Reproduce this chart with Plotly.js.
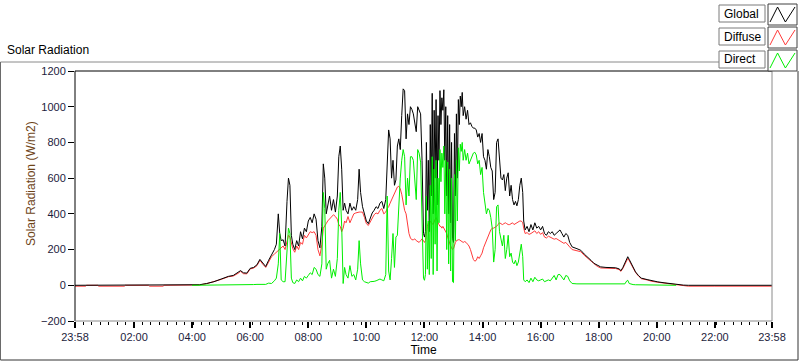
<!DOCTYPE html>
<html>
<head>
<meta charset="utf-8">
<script src="https://cdn.plot.ly/plotly-3.0.1.min.js"></script>
<style>
html,body{margin:0;padding:0;background:#fff;}
#chart{width:800px;height:361px;}
</style>
</head>
<body>
<div id="chart"></div>
<script>
// Time of day in minutes since midnight (-2 = 23:58 of previous day)
const timeMin = [
  -2,20,22,45,47,100,102,150,152,180,182,240,
  255,270,285,300,315,325,335,340,346,353,360,367,374,380,386,392,398,404,410,414,
  418,421,424,428,432,436,439,442,445,448,452,456,460,464,468,472,476,480,
  484,488,492,496,500,504,508,511,514,517,520,524,528,532,536,540,
  543,546,549,552,555,558,562,566,570,574,578,582,585,588,592,596,600,604,608,612,616,620,624,628,632,636,640,
  643,646,649,652,655,658,661,664,667,670,673,676,679,682,685,688,691,694,697,700,703,706,709,712,715,718,720,722,
  724,726,728,730,732,734,736,738,740,742,744,746,748,750,752,754,756,758,760,762,764,766,768,770,772,774,776,778,780,782,784,786,788,790,792,794,796,798,800,
  803,806,809,812,815,818,821,824,827,830,
  833,836,839,842,845,848,851,854,857,860,863,866,869,872,875,878,881,884,887,890,893,896,899,902,905,908,911,914,917,920,923,925,928,
  932,936,940,944,948,952,956,960,964,968,972,976,980,984,988,992,996,1000,1004,1008,1012,1016,
  1020,1025,1035,1043,1050,1057,1064,1070,1077,1084,1095,1105,1115,1122,1126,1130,1134,1138,1140,1143,1147,1151,1156,1162,1168,1180,1190,1202,1215,1225,1240,1255,
  1265,1320,1380,1438
];
// Global radiation (W/m2)
const globalRad = [
  0,0,0,0,0,0,0,0,0,0,0,0,
  3,10,20,35,50,55,70,82,70,68,95,100,115,145,125,105,140,170,200,230,
  400,290,250,255,220,470,600,560,280,230,200,250,220,300,260,320,300,360,
  380,350,400,370,250,210,330,680,600,400,450,500,420,480,410,500,
  720,780,650,420,460,420,400,460,420,440,420,480,650,520,440,400,360,345,380,405,420,440,430,460,470,430,480,
  700,870,820,600,700,560,590,780,820,760,950,1100,1090,820,960,900,1000,985,960,900,860,1000,980,960,700,290,270,300,
  800,420,700,300,900,500,1075,400,980,600,1040,450,950,700,1090,900,1050,980,1095,700,1000,500,950,400,900,350,800,260,240,850,500,960,600,1040,900,1060,1000,1080,950,
  1000,930,980,900,910,890,880,880,870,830,
  850,800,850,720,700,650,760,720,660,640,480,520,800,820,700,600,590,620,530,600,630,500,560,480,450,470,445,480,560,600,520,360,310,
  330,300,340,310,350,320,330,310,330,290,280,300,290,300,280,290,300,310,290,270,290,280,
  240,215,205,196,175,160,140,123,112,103,100,100,98,92,82,100,125,150,160,145,125,100,75,55,40,32,25,19,14,10,4,1,
  0,0,0,0
];
// Diffuse radiation (W/m2)
const diffuseRad = [
  -5,-5,0,0,-5,-5,0,0,-5,-5,0,0,
  2,9,19,33,48,52,67,78,65,64,92,96,110,140,118,100,130,160,175,185,
  190,200,210,220,200,240,280,270,230,205,185,220,200,240,230,280,265,285,
  300,295,300,280,200,165,230,320,330,345,360,370,380,395,385,370,
  340,330,300,320,360,350,385,350,375,400,405,410,410,410,410,380,345,335,355,380,395,405,400,420,430,400,410,
  430,440,460,480,500,520,540,550,555,540,510,460,420,400,330,290,265,255,255,260,250,245,240,250,260,250,240,250,
  300,330,350,340,360,350,345,340,360,370,380,360,350,340,330,330,320,330,320,310,300,290,270,250,240,220,210,200,205,230,240,250,255,255,255,250,250,245,240,
  245,240,230,220,200,170,145,135,140,160,
  150,165,180,210,230,250,270,300,310,320,320,325,330,340,350,345,340,345,350,345,340,340,345,350,340,345,350,355,360,360,350,320,290,
  295,285,290,300,305,290,300,285,295,270,265,275,270,265,258,262,255,245,240,235,240,230,
  215,200,195,188,168,152,133,117,106,97,95,96,94,88,78,95,118,140,150,138,118,96,72,52,37,30,22,17,12,8,2,-1,
  -5,-5,-5,-5
];
// Direct radiation (W/m2)
const directRad = [
  null,null,null,null,null,null,null,null,null,null,null,0,
  0,0,0,0,0,1,2,2,3,3,4,4,5,6,8,5,12,10,25,40,
  120,290,30,20,20,230,320,290,40,15,10,30,20,40,25,50,40,55,
  70,60,100,90,60,50,120,520,430,90,120,140,40,90,50,150,
  420,520,330,10,100,60,40,110,50,60,30,90,250,120,30,20,15,12,20,20,22,25,28,35,30,25,60,
  500,80,30,150,290,100,270,280,470,600,700,760,720,450,600,500,720,720,700,600,480,760,740,690,430,40,28,60,
  500,90,360,60,560,150,720,60,650,230,700,80,600,350,760,580,740,660,780,400,700,200,690,120,650,80,600,20,15,620,250,700,360,770,640,790,750,800,700,
  760,700,740,680,700,720,740,745,730,680,
  700,620,660,520,470,400,430,420,380,320,130,200,440,450,300,250,220,280,150,200,280,160,180,130,120,140,110,130,190,230,160,30,20,
  30,15,40,20,45,30,25,30,35,20,25,30,25,40,55,30,60,60,45,30,55,50,
  25,10,8,8,7,7,6,6,6,5,5,4,4,4,4,5,8,25,28,10,5,4,3,3,2,2,1,1,1,1,0,null,
  null,null,null,null
];
const seriesNames = ["Global", "Diffuse", "Direct"];
const xTickVals = [-2,120,240,360,480,600,720,840,960,1080,1200,1320,1438];
const xTickText = ["23:58","02:00","04:00","06:00","08:00","10:00","12:00","14:00","16:00","18:00","20:00","22:00","23:58"];
const yTickVals = [-200,0,200,400,600,800,1000,1200];

if (globalRad.length !== timeMin.length || diffuseRad.length !== timeMin.length || directRad.length !== timeMin.length) {
  throw new Error("length mismatch " + timeMin.length + " " + globalRad.length + " " + diffuseRad.length + " " + directRad.length);
}

const W = 800, H = 361, ML = 75, MR = 28, MT = 71, MB = 40;
const PW = W - ML - MR, PH = H - MT - MB;
const fx = px => (px - ML) / PW;
const fy = py => (H - MB - py) / PH;

const colors = {Global: "#000000", Diffuse: "#ff3a3a", Direct: "#00ee00"};
const FONT = "Liberation Sans, Arial, sans-serif";

const traces = [
  {x: timeMin, y: diffuseRad, name: "Diffuse", type: "scatter", mode: "lines", line: {color: colors.Diffuse, width: 1}},
  {x: timeMin, y: globalRad, name: "Global", type: "scatter", mode: "lines", line: {color: colors.Global, width: 1}},
  {x: timeMin, y: directRad, name: "Direct", type: "scatter", mode: "lines", line: {color: colors.Direct, width: 1}, connectgaps: false}
];

function line(x0, y0, x1, y1, color) {
  return {type: "line", xref: "paper", yref: "paper", x0: fx(x0), y0: fy(y0), x1: fx(x1), y1: fy(y1),
          line: {color: color, width: 1}, layer: "above"};
}
function rect(x0, y0, x1, y1, color) {
  return {type: "rect", xref: "paper", yref: "paper", x0: fx(x0), y0: fy(y0), x1: fx(x1), y1: fy(y1),
          line: {color: color, width: 1}, fillcolor: "#ffffff", layer: "above"};
}
function zig(x0, y0, x1, y1, color) {
  const w = x1 - x0;
  const pts = [[x0 + 2, y1 - 3], [x0 + w * 0.33, y0 + 3], [x0 + w * 0.6, y1 - 3], [x1 - 2, y0 + 3]];
  const d = pts.map((p, i) => (i ? "L" : "M") + fx(p[0]) + "," + fy(p[1])).join(" ");
  return {type: "path", xref: "paper", yref: "paper", path: d, line: {color: color, width: 1}, layer: "above"};
}

const shapes = [
  // outer frame
  line(0.5, 62, 719, 62, "#8a8a8a"),
  line(0.5, 62, 0.5, 360, "#6a6a6a"),
  line(0.5, 360, 798, 360, "#333333"),
  line(798, 71, 798, 360, "#333333"),
  // plot frame
  line(75, 71, 772, 71, "#000000"),
  line(75, 71, 75, 321, "#000000"),
  line(772, 71, 772, 321, "#8a8a8a"),
  line(75, 321, 772, 321, "#8a8a8a")
];
const annotations = [
  {xref: "paper", yref: "paper", x: fx(5), y: fy(50), xanchor: "left", yanchor: "middle", showarrow: false,
   text: "Solar Radiation", font: {family: FONT, size: 12, color: "#000000"}},
  {xref: "paper", yref: "paper", x: fx(31), y: fy(184), xanchor: "center", yanchor: "middle", showarrow: false,
   textangle: -90, text: "Solar Radiation (W/m2)", font: {family: FONT, size: 12, color: "#6e4418"}}
];
const legendRows = [[5, 22], [28, 45], [51, 68]];
seriesNames.forEach((nm, i) => {
  const [ya, yb] = legendRows[i];
  shapes.push(rect(719, ya, 765, yb, "#7a7a7a"));
  shapes.push(rect(768, ya - 1, 797, yb + 3, "#404040"));
  shapes.push(zig(768, ya - 1, 797, yb + 3, colors[nm]));
  annotations.push({xref: "paper", yref: "paper", x: fx(722), y: fy((ya + yb) / 2), xanchor: "left", yanchor: "middle",
    showarrow: false, text: nm, font: {family: FONT, size: 12, color: "#000000"}});
});

const layout = {
  width: W, height: H,
  margin: {l: ML, r: MR, t: MT, b: MB, pad: 0},
  paper_bgcolor: "#ffffff", plot_bgcolor: "#ffffff",
  showlegend: false,
  font: {family: FONT, size: 11, color: "#1c1c3c"},
  xaxis: {
    range: [-2, 1438], tickmode: "array", tickvals: xTickVals, ticktext: xTickText,
    ticks: "outside", ticklen: 6, tickwidth: 2, tickcolor: "#000000",
    showline: false, showgrid: false, zeroline: false, fixedrange: true,
    tickfont: {family: FONT, size: 11, color: "#1c1c3c"},
    minor: {tickmode: "linear", tick0: -2, dtick: 122 / 7, ticks: "outside", ticklen: 3, tickwidth: 1, tickcolor: "#000000", showgrid: false},
    title: {text: "Time", font: {family: FONT, size: 12, color: "#000000"}, standoff: 3}
  },
  yaxis: {
    range: [-200, 1200], tickmode: "array", tickvals: yTickVals,
    ticks: "outside", ticklen: 6, tickwidth: 1, tickcolor: "#000000",
    showline: false, showgrid: false, zeroline: false, fixedrange: true,
    tickfont: {family: FONT, size: 11, color: "#1c1c3c"}
  },
  shapes: shapes,
  annotations: annotations
};

Plotly.newPlot("chart", traces, layout, {staticPlot: true, displayModeBar: false});
</script>
</body>
</html>
